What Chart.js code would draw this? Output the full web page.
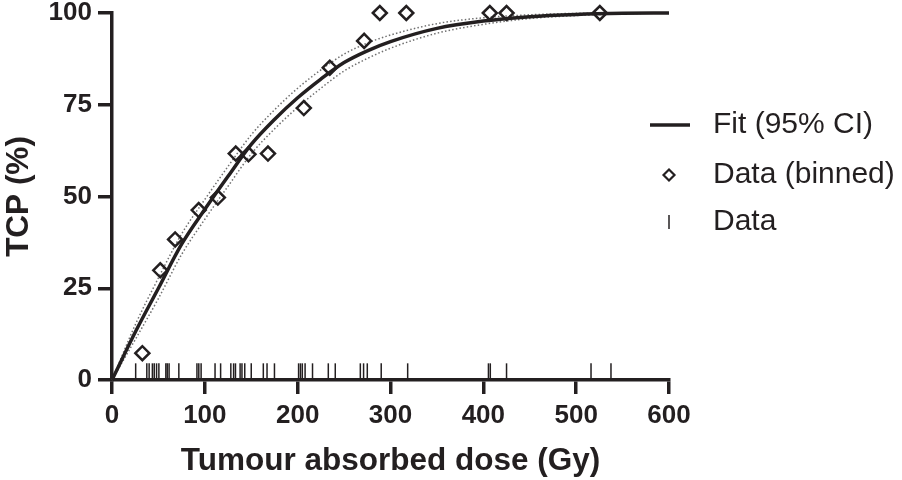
<!DOCTYPE html>
<html>
<head>
<meta charset="utf-8">
<script src="https://cdn.jsdelivr.net/npm/chart.js@4.4.1/dist/chart.umd.min.js"></script>
<style>
  body { margin: 0; background: #fff; }
  #wrap { width: 902px; height: 480px; }
</style>
</head>
<body>
<div id="wrap"><canvas id="tcp-chart"></canvas></div>
<script>
// fitted curve
const fitDose = [0, 25, 50, 75, 100, 125, 150, 175, 200, 225, 250, 275, 300, 350, 400, 450, 500, 550, 600];
const fitTcp  = [0, 13, 25, 37, 46.5, 55.5, 64.2, 71, 76.9, 82, 86.5, 89.7, 92.2, 95.8, 97.8, 99, 99.6, 99.9, 100];
const ciUpper = [0, 15, 27.8, 39.8, 49.2, 58.2, 66.8, 73.6, 79.5, 84.5, 88.8, 91.8, 94, 97.1, 98.7, 99.5, 99.9, 100, 100];
const ciLower = [0, 11, 22.2, 34.2, 43.8, 52.8, 61.6, 68.4, 74.3, 79.5, 84.2, 87.6, 90.4, 94.5, 96.9, 98.5, 99.3, 99.8, 100];

// binned data
const binDose = [32.7, 52, 68, 93.4, 114, 133.3, 147, 168, 206.6, 234.6, 271.6, 288.5, 317, 407, 425, 525.5];
const binTcp  = [7.3, 29.9, 38.3, 46.3, 49.7, 61.7, 61.5, 61.7, 74.1, 85.1, 92.4, 100, 100, 100, 100, 100];

// individual doses (rug)
const rugDose = [25.5, 37.5, 40, 43.5, 45.5, 48, 50.5, 58, 59.5, 61.5, 72, 91.5, 93.5, 96, 111, 117,
                 128, 131, 133, 138, 140, 143, 150, 163, 167, 175, 201, 203, 205, 208, 216, 233,
                 240.5, 267.5, 271, 275, 290, 318.5, 405.5, 407.5, 425, 516, 537.5];
const RUG_LEVEL = 2.5;

const xTicks = [0, 100, 200, 300, 400, 500, 600];
const yTicks = [0, 25, 50, 75, 100];
const legendLabels = ['Fit (95% CI)', 'Data (binned)', 'Data'];

const ink = '#231f20';
const fam = "'Liberation Sans', Arial, sans-serif";

const pts = (xs, ys) => xs.map((x, i) => ({x: x, y: ys[i]}));

// draws the legend on the right
const sideLegend = {
  id: 'sideLegend',
  afterDraw(chart) {
    const ctx = chart.ctx;
    const x0 = chart.chartArea.right;
    const rows = [125, 175, 222];
    ctx.save();
    ctx.strokeStyle = ink;
    ctx.fillStyle = ink;
    // line
    ctx.lineWidth = 3.5;
    ctx.beginPath();
    ctx.moveTo(x0 - 19, rows[0]);
    ctx.lineTo(x0 + 21, rows[0]);
    ctx.stroke();
    // diamond
    ctx.lineWidth = 2.2;
    ctx.beginPath();
    ctx.moveTo(x0 - 5.5, rows[1]);
    ctx.lineTo(x0, rows[1] - 5.5);
    ctx.lineTo(x0 + 5.5, rows[1]);
    ctx.lineTo(x0, rows[1] + 5.5);
    ctx.closePath();
    ctx.stroke();
    // tick
    ctx.lineWidth = 1.5;
    ctx.beginPath();
    ctx.moveTo(x0, rows[2] - 7);
    ctx.lineTo(x0, rows[2] + 7);
    ctx.stroke();
    ctx.font = '30px ' + fam;
    ctx.textBaseline = 'middle';
    ctx.textAlign = 'left';
    legendLabels.forEach((t, i) => ctx.fillText(t, x0 + 44, rows[i]));
    ctx.restore();
  }
};

new Chart(document.getElementById('tcp-chart'), {
  type: 'scatter',
  data: {
    datasets: [
      {
        label: 'Fit',
        type: 'line',
        data: pts(fitDose, fitTcp),
        borderColor: ink,
        borderWidth: 3.5,
        pointRadius: 0,
        cubicInterpolationMode: 'monotone',
        fill: false,
        clip: false,
        order: 1
      },
      {
        label: 'CI upper',
        type: 'line',
        data: pts(fitDose, ciUpper),
        borderColor: '#707070',
        borderWidth: 1.5,
        borderDash: [1.5, 2.2],
        pointRadius: 0,
        cubicInterpolationMode: 'monotone',
        fill: false,
        clip: false,
        order: 2
      },
      {
        label: 'CI lower',
        type: 'line',
        data: pts(fitDose, ciLower),
        borderColor: '#707070',
        borderWidth: 1.5,
        borderDash: [1.5, 2.2],
        pointRadius: 0,
        cubicInterpolationMode: 'monotone',
        fill: false,
        clip: false,
        order: 2
      },
      {
        label: 'Data (binned)',
        data: pts(binDose, binTcp),
        pointStyle: 'rectRot',
        pointRadius: 7,
        pointBorderWidth: 2.5,
        pointBorderColor: ink,
        pointBackgroundColor: 'rgba(255,255,255,0)',
        clip: false,
        order: 0
      },
      {
        label: 'Data',
        data: rugDose.map(d => ({x: d, y: RUG_LEVEL})),
        pointStyle: 'line',
        rotation: 90,
        pointRadius: 7.5,
        pointBorderWidth: 1.5,
        pointBorderColor: ink,
        order: 3
      }
    ]
  },
  options: {
    responsive: true,
    maintainAspectRatio: false,
    animation: false,
    events: [],
    layout: { padding: { top: 13, right: 233, left: 0, bottom: 0 } },
    plugins: {
      legend: { display: false },
      tooltip: { enabled: false }
    },
    scales: {
      x: {
        type: 'linear',
        min: 0,
        max: 600,
        afterFit: s => { s.height = 100; s.paddingLeft = 0; s.paddingRight = 0; },
        afterBuildTicks: s => { s.ticks = xTicks.map(v => ({value: v})); },
        grid: { drawOnChartArea: false, tickLength: 14, lineWidth: 3.5, color: ink },
        border: { display: true, width: 3.5, color: ink },
        ticks: { color: ink, padding: 6, font: { family: fam, size: 26, weight: 'bold' } },
        title: {
          display: true,
          text: 'Tumour absorbed dose (Gy)',
          color: ink,
          padding: 0,
          font: { family: fam, size: 31.5, weight: 'bold' }
        }
      },
      y: {
        type: 'linear',
        min: 0,
        max: 100,
        afterFit: s => { s.width = 112; s.paddingTop = 0; s.paddingBottom = 0; },
        afterBuildTicks: s => { s.ticks = yTicks.map(v => ({value: v})); },
        grid: { drawOnChartArea: false, tickLength: 14, lineWidth: 3.5, color: ink },
        border: { display: true, width: 3.5, color: ink },
        ticks: { color: ink, padding: 6, font: { family: fam, size: 26, weight: 'bold' } },
        title: {
          display: true,
          text: 'TCP (%)',
          color: ink,
          padding: 0,
          font: { family: fam, size: 31.5, weight: 'bold' }
        }
      }
    }
  },
  plugins: [sideLegend]
});
</script>
</body>
</html>
